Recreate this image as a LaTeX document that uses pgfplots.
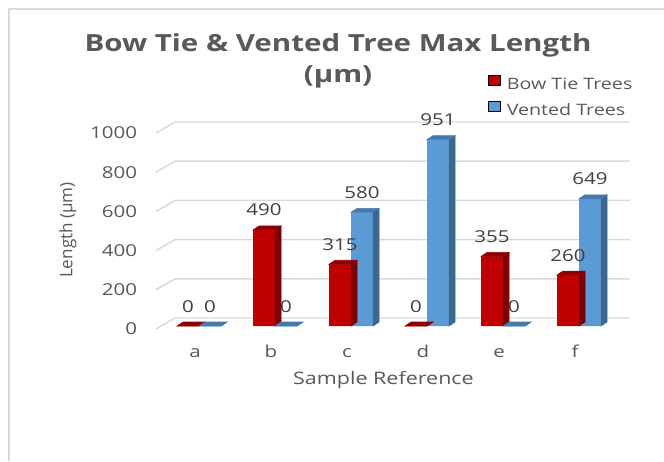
\documentclass[border=0pt]{standalone}
\usepackage{fontspec}
\setmainfont{Open Sans}[FakeStretch=1.25]
\newfontfamily\plainfont{Open Sans}
\usepackage{pgfplots}
\usepackage{pgfplotstable}
\pgfplotsset{compat=1.18}
\definecolor{redfront}{HTML}{C00000}
\definecolor{redside}{HTML}{7A0000}
\definecolor{redtop}{HTML}{900000}
\definecolor{bluefront}{HTML}{5B9BD5}
\definecolor{blueside}{HTML}{3A6891}
\definecolor{bluetop}{HTML}{4679AD}
\definecolor{gridc}{HTML}{D9D9D9}
\definecolor{txt}{HTML}{595959}
\definecolor{lbl}{HTML}{404040}

\pgfplotstableread{
x bow vented
0 0 0
1 490 0
2 315 580
3 0 951
4 355 0
5 260 649
}\trees

\begin{document}
\begin{tikzpicture}
\useasboundingbox (0,0) rectangle (498pt,345.75pt);
\fill[white] (0,0) rectangle (498pt,345.75pt);
\draw[gridc, line width=1.5pt] (6.75pt,0) -- (6.75pt,339pt) -- (498pt,339pt);
\begin{axis}[
  at={(117pt,99pt)}, anchor=south west,
  x=57pt, y=0.147pt,
  xmin=-0.566, xmax=5.42, ymin=0, ymax=1000,
  clip=false,
  axis line style={draw=none},
  major tick length=0pt,
  tick style={draw=none},
  xtick={0,1,2,3,4,5}, xticklabels={a,b,c,d,e,f},
  ytick={0,200,400,600,800,1000},
  /pgf/number format/assume math mode=true,
  /pgf/number format/1000 sep={},
  ticklabel style={font=\fontsize{12.3}{14}\selectfont, text=txt},
  yticklabel style={anchor=east, inner sep=0pt, xshift=-14pt},
  xticklabel style={anchor=base, inner sep=0pt, yshift=-21pt, xshift=-3pt},
  xlabel={Sample Reference},
  xlabel style={at={(axis description cs:0.5,-0.2857)}, anchor=base, inner sep=0pt, font=\fontsize{12.9}{15}\selectfont, text=txt},
  ylabel={Length (µm)},
  ylabel style={at={(axis description cs:-0.1934,0.505)}, anchor=center, inner sep=0pt, font=\plainfont\fontsize{12.8}{15}\selectfont, text=txt},
  legend style={at={(axis description cs:0.7297,1.296)}, anchor=north west, draw=none, fill=none, inner sep=0pt,
    font=\fontsize{11.8}{14}\selectfont, text=txt, row sep=5.5pt,
    nodes={inner sep=0pt, text height=9pt, text depth=3pt},
    /tikz/every odd column/.append style={column sep=4.5pt}},
  legend cell align=left,
  legend image code/.code={\fill[#1] (0pt,0pt) rectangle (9pt,7.5pt);},
]
% 3D gridlines
\pgfplotsinvokeforeach{0,200,400,600,800,1000}{
  \draw[gridc, line width=1.1pt] (axis cs:-0.566,#1) -- ++(14.25pt,8.25pt) -- ([shift={(14.25pt,8.25pt)}]axis cs:5.42,#1);
}
\addlegendimage{fill=redfront}
\addlegendentry{Bow Tie Trees}
\addlegendimage{fill=bluefront}
\addlegendentry{Vented Trees}
% Bow tie: front faces
\addplot[ybar, bar width=16.5pt, bar shift=-8.25pt, fill=redfront, draw=none, yshift=2.25pt, forget plot]
  table[x=x,y=bow]{\trees};
% Bow tie: side and top faces
\addplot[scatter, only marks, mark=*, mark size=0pt, mark options={draw=none,fill=none}, forget plot,
  visualization depends on={\thisrow{bow} \as \vv},
  scatter/@pre marker code/.code={
    \pgfmathsetmacro\bt{2.25-\vv*0.147}
    \pgfmathsetmacro\btt{\bt+3}
    \fill[redside] (0pt,\bt pt) -- (4.5pt,\btt pt) -- (4.5pt,5.25pt) -- (0pt,2.25pt) -- cycle;
    \fill[redtop] (-16.5pt,2.25pt) -- (-12pt,5.25pt) -- (4.5pt,5.25pt) -- (0pt,2.25pt) -- cycle;
  },
  scatter/@post marker code/.code={}]
  table[x=x,y=bow]{\trees};
% Vented: front faces
\addplot[ybar, bar width=16.5pt, bar shift=8.25pt, fill=bluefront, draw=none, yshift=2.25pt, forget plot]
  table[x=x,y=vented]{\trees};
% Vented: side and top faces
\addplot[scatter, only marks, mark=*, mark size=0pt, mark options={draw=none,fill=none}, forget plot,
  visualization depends on={\thisrow{vented} \as \vv},
  scatter/@pre marker code/.code={
    \pgfmathsetmacro\bt{2.25-\vv*0.147}
    \pgfmathsetmacro\btt{\bt+3}
    \fill[blueside] (16.5pt,\bt pt) -- (21pt,\btt pt) -- (21pt,5.25pt) -- (16.5pt,2.25pt) -- cycle;
    \fill[bluetop] (0pt,2.25pt) -- (4.5pt,5.25pt) -- (21pt,5.25pt) -- (16.5pt,2.25pt) -- cycle;
  },
  scatter/@post marker code/.code={}]
  table[x=x,y=vented]{\trees};
% value labels
\addplot[only marks, mark=*, mark size=0pt, mark options={draw=none,fill=none}, forget plot,
  nodes near coords, every node near coord/.append style={anchor=south, inner sep=0pt, xshift=-8.25pt, yshift=12.4pt, font=\fontsize{12.3}{14}\selectfont, text=lbl}]
  table[x=x,y=bow]{\trees};
\addplot[only marks, mark=*, mark size=0pt, mark options={draw=none,fill=none}, forget plot,
  nodes near coords, every node near coord/.append style={anchor=south, inner sep=0pt, xshift=8.25pt, yshift=12.4pt, font=\fontsize{12.3}{14}\selectfont, text=lbl}]
  table[x=x,y=vented]{\trees};
\end{axis}
\node[anchor=base, text=txt, font=\bfseries\fontsize{17.7}{22}\selectfont] at (253.5pt,306.75pt) {Bow Tie \& Vented Tree Max Length};
\node[anchor=base, text=txt, font=\bfseries\fontsize{17.7}{22}\selectfont] at (253.5pt,283.5pt) {(µm)};
\end{tikzpicture}
\end{document}
